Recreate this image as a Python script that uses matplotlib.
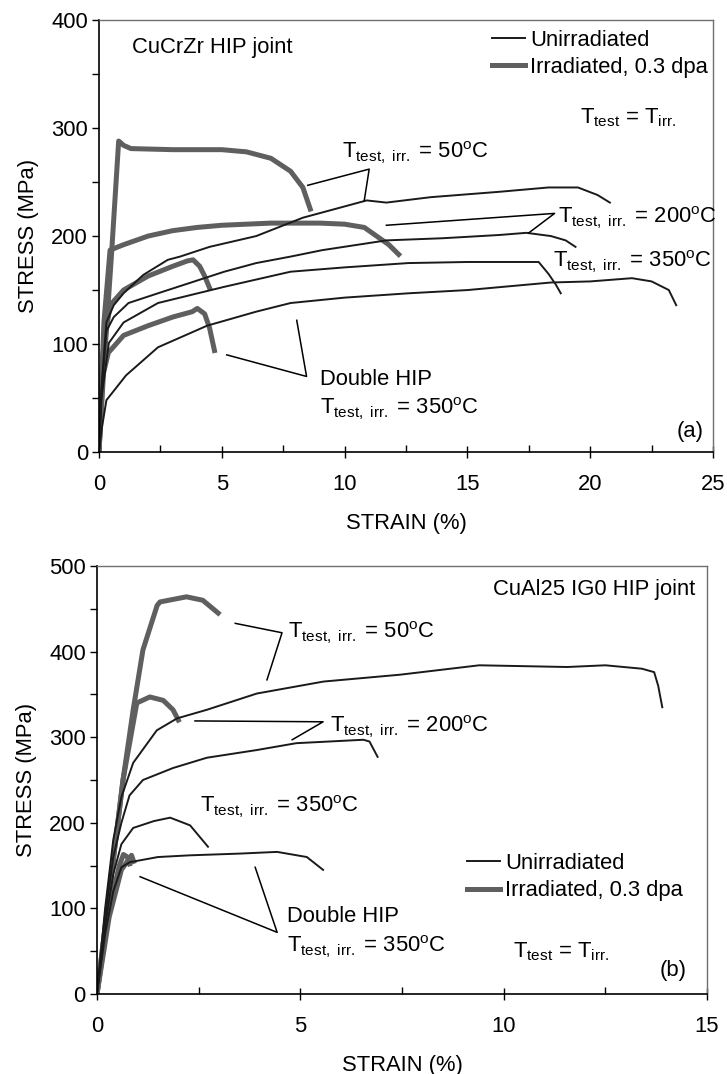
import matplotlib
matplotlib.use("Agg")
import matplotlib.pyplot as plt
from matplotlib.ticker import MultipleLocator

plt.rcParams["font.family"] = ["Liberation Sans", "DejaVu Sans"]
plt.rcParams["mathtext.fontset"] = "custom"
plt.rcParams["mathtext.rm"] = "Liberation Sans"
plt.rcParams["mathtext.it"] = "Liberation Sans:italic"
plt.rcParams["font.size"] = 15.8

BLACK = "#1a1a1a"
GRAY = "#5f5f5f"

# ---- (a) CuCrZr HIP joint: strain (%), stress (MPa) ----
a_unirr_50_x = [0, 0.1, 0.3, 0.6, 1.0, 1.8, 2.8, 3.3, 4.5, 6.4, 8.3, 10.9, 11.7, 13.5, 16.3, 18.3, 19.5, 20.3, 20.8]
a_unirr_50_y = [0, 60, 120, 136, 147, 164, 178, 181, 190, 200, 217, 233, 231, 236, 241, 245, 245, 238, 231]
a_unirr_200_x = [0, 0.1, 0.3, 0.6, 1.2, 2.4, 5.1, 6.4, 7.8, 9.1, 11.7, 14.0, 16.3, 17.4, 18.4, 19.0, 19.4]
a_unirr_200_y = [0, 55, 112, 125, 138, 147, 167, 175, 181, 187, 196, 198, 201, 203, 200, 196, 190]
a_unirr_350_x = [0, 0.1, 0.4, 1.0, 2.4, 5.1, 7.8, 10.0, 12.6, 15.0, 17.9, 18.3, 18.6, 18.8]
a_unirr_350_y = [0, 50, 101, 120, 138, 153, 167, 171, 175, 176, 176, 165, 155, 147]
a_unirr_dhip_x = [0, 0.1, 0.3, 1.1, 2.4, 4.4, 6.4, 7.8, 10.0, 12.6, 15.0, 18.4, 20.0, 21.7, 22.5, 23.2, 23.5]
a_unirr_dhip_y = [0, 20, 48, 71, 97, 117, 130, 138, 143, 147, 150, 157, 158, 161, 158, 150, 136]

a_irr_50_x = [0, 0.2, 0.5, 0.8, 1.0, 1.3, 3.0, 5.0, 6.0, 7.0, 7.8, 8.3, 8.6]
a_irr_50_y = [0, 80, 180, 288, 284, 281, 280, 280, 278, 272, 260, 245, 225]
a_irr_200_x = [0, 0.2, 0.45, 1.0, 2.0, 3.0, 4.0, 5.0, 6.0, 7.0, 8.0, 9.0, 10.0, 10.8, 11.3, 11.8, 12.2]
a_irr_200_y = [0, 120, 187, 192, 200, 205, 208, 210, 211, 212, 212, 212, 211, 208, 200, 192, 183]
a_irr_350_x = [0, 0.15, 0.45, 1.0, 2.0, 3.0, 3.6, 3.83, 4.1, 4.3, 4.5]
a_irr_350_y = [0, 90, 136, 150, 163, 172, 177, 178, 172, 163, 152]
a_irr_dhip_x = [0, 0.15, 0.38, 1.0, 2.0, 3.0, 3.8, 4.0, 4.3, 4.5, 4.7]
a_irr_dhip_y = [0, 70, 92, 108, 117, 125, 130, 133, 128, 115, 94]

# ---- (b) CuAl25 IG0 HIP joint ----
b_unirr_50_x = [0, 0.2, 0.4, 0.6, 0.89, 1.47, 1.97, 2.7, 3.93, 5.57, 7.45, 9.4, 11.56, 12.5, 13.4, 13.7, 13.8, 13.9]
b_unirr_50_y = [0, 100, 180, 230, 270, 308, 322, 332, 351, 365, 373, 384, 382, 384, 380, 376, 360, 335]
b_unirr_200_x = [0, 0.2, 0.4, 0.6, 0.8, 1.13, 1.87, 2.7, 3.93, 4.9, 6.55, 6.7, 6.9]
b_unirr_200_y = [0, 90, 160, 200, 232, 250, 264, 276, 285, 293, 297, 295, 277]
b_unirr_350_x = [0, 0.2, 0.4, 0.6, 0.89, 1.4, 1.8, 2.29, 2.73]
b_unirr_350_y = [0, 80, 140, 175, 194, 202, 206, 197, 172]
b_unirr_dhip_x = [0, 0.2, 0.4, 0.6, 0.81, 1.5, 2.29, 3.5, 4.43, 5.16, 5.56]
b_unirr_dhip_y = [0, 70, 120, 148, 154, 160, 162, 164, 166, 160, 145]

b_irr_50_x = [0, 0.64, 0.89, 1.13, 1.48, 1.55, 2.2, 2.6, 2.98]
b_irr_50_y = [0, 250, 332, 402, 454, 458, 464, 460, 445]
b_irr_200_x = [0, 0.64, 0.98, 1.3, 1.63, 1.87, 2.0]
b_irr_200_y = [0, 250, 340, 347, 343, 332, 320]
b_irr_350_x = [0, 0.3, 0.55, 0.65, 0.75, 0.8]
b_irr_350_y = [0, 100, 150, 163, 160, 152]
b_irr_dhip_x = [0, 0.3, 0.6, 0.85, 0.9]
b_irr_dhip_y = [0, 90, 145, 162, 155]

T_LBL = r"T$_{\mathrm{test,\ irr.}}$ = "
DEG = r"$^{\mathrm{o}}$C"
T_EQ = r"T$_{\mathrm{test}}$ = T$_{\mathrm{irr.}}$"

fig = plt.figure(figsize=(7.27, 10.74), dpi=100)
ax1 = fig.add_axes([0.1362, 0.5791, 0.8446, 0.4022])
ax2 = fig.add_axes([0.1334, 0.0745, 0.8391, 0.3985])

lw_u, lw_i = 1.4, 3.6
ax1.plot(a_irr_50_x, a_irr_50_y, color=GRAY, lw=lw_i, label="Irradiated, 0.3 dpa")
ax1.plot(a_irr_200_x, a_irr_200_y, color=GRAY, lw=lw_i)
ax1.plot(a_irr_350_x, a_irr_350_y, color=GRAY, lw=lw_i)
ax1.plot(a_irr_dhip_x, a_irr_dhip_y, color=GRAY, lw=lw_i)
ax1.plot(a_unirr_50_x, a_unirr_50_y, color=BLACK, lw=lw_u, label="Unirradiated")
ax1.plot(a_unirr_200_x, a_unirr_200_y, color=BLACK, lw=lw_u)
ax1.plot(a_unirr_350_x, a_unirr_350_y, color=BLACK, lw=lw_u)
ax1.plot(a_unirr_dhip_x, a_unirr_dhip_y, color=BLACK, lw=lw_u)

ax2.plot(b_irr_50_x, b_irr_50_y, color=GRAY, lw=lw_i, label="Irradiated, 0.3 dpa")
ax2.plot(b_irr_200_x, b_irr_200_y, color=GRAY, lw=lw_i)
ax2.plot(b_irr_350_x, b_irr_350_y, color=GRAY, lw=lw_i)
ax2.plot(b_irr_dhip_x, b_irr_dhip_y, color=GRAY, lw=lw_i)
ax2.plot(b_unirr_50_x, b_unirr_50_y, color=BLACK, lw=lw_u, label="Unirradiated")
ax2.plot(b_unirr_200_x, b_unirr_200_y, color=BLACK, lw=lw_u)
ax2.plot(b_unirr_350_x, b_unirr_350_y, color=BLACK, lw=lw_u)
ax2.plot(b_unirr_dhip_x, b_unirr_dhip_y, color=BLACK, lw=lw_u)

for ax, xmax, ymax in [(ax1, 25, 400), (ax2, 15, 500)]:
    ax.set_xlim(0, xmax)
    ax.set_ylim(0, ymax)
    ax.xaxis.set_major_locator(MultipleLocator(5))
    ax.xaxis.set_minor_locator(MultipleLocator(2.5))
    ax.yaxis.set_major_locator(MultipleLocator(100))
    ax.yaxis.set_minor_locator(MultipleLocator(50))
    ax.tick_params(axis="x", which="major", direction="inout", length=9, width=1, pad=11)
    ax.tick_params(axis="x", which="minor", direction="in", length=5, width=1)
    ax.tick_params(axis="y", which="both", direction="out", length=5, width=1, pad=3)
    ax.set_xlabel("STRAIN (%)", labelpad=13)
    ax.set_ylabel("STRESS (MPa)", labelpad=9)
    for s in ["left", "bottom"]:
        ax.spines[s].set_linewidth(1.2)
        ax.spines[s].set_color("black")
    for s in ["top", "right"]:
        ax.spines[s].set_linewidth(1.0)
        ax.spines[s].set_color("#707070")

# legends: unirradiated first
h, l = ax1.get_legend_handles_labels()
ax1.legend(h[::-1], l[::-1], loc="upper left", bbox_to_anchor=(0.64, 0.978), frameon=False,
           handlelength=1.5, handletextpad=0.25, labelspacing=0.3,
           borderpad=0, borderaxespad=0)
h, l = ax2.get_legend_handles_labels()
ax2.legend(h[::-1], l[::-1], loc="upper left", bbox_to_anchor=(0.606, 0.33), frameon=False,
           handlelength=1.5, handletextpad=0.25, labelspacing=0.3,
           borderpad=0, borderaxespad=0)

# ---- annotations (a) ----
ax1.text(1.35, 375, "CuCrZr HIP joint", va="center", ha="left")
ax1.text(19.6, 310, T_EQ, va="center", ha="left")
ax1.text(9.9, 277, T_LBL + "50" + DEG, va="center", ha="left")
ax1.plot([8.5, 11.0, 10.8], [247, 262, 233], color="black", lw=1.1)
ax1.text(18.7, 217, T_LBL + "200" + DEG, va="center", ha="left")
ax1.plot([11.7, 18.55, 17.5], [210, 221, 203], color="black", lw=1.1)
ax1.text(18.5, 176, T_LBL + "350" + DEG, va="center", ha="left")
ax1.text(9.0, 67, "Double HIP", va="center", ha="left")
ax1.text(9.0, 40, T_LBL + "350" + DEG, va="center", ha="left")
ax1.plot([5.2, 8.45, 8.05], [90, 70, 122], color="black", lw=1.1)
ax1.text(24.6, 19, "(a)", va="center", ha="right")

# ---- annotations (b) ----
ax2.text(14.7, 472, "CuAl25 IG0 HIP joint", va="center", ha="right")
ax2.text(4.7, 422, T_LBL + "50" + DEG, va="center", ha="left")
ax2.plot([3.4, 4.55, 4.18], [433, 422, 367], color="black", lw=1.1)
ax2.text(5.73, 312, T_LBL + "200" + DEG, va="center", ha="left")
ax2.plot([2.41, 5.56, 4.8], [319, 318, 297], color="black", lw=1.1)
ax2.text(2.53, 219, T_LBL + "350" + DEG, va="center", ha="left")
ax2.text(4.67, 90, "Double HIP", va="center", ha="left")
ax2.text(4.67, 55, T_LBL + "350" + DEG, va="center", ha="left")
ax2.plot([1.06, 4.43, 3.89], [137, 72, 148], color="black", lw=1.1)
ax2.text(10.23, 49, T_EQ, va="center", ha="left")
ax2.text(14.5, 28, "(b)", va="center", ha="right")

fig.savefig("out.png", dpi=100)
